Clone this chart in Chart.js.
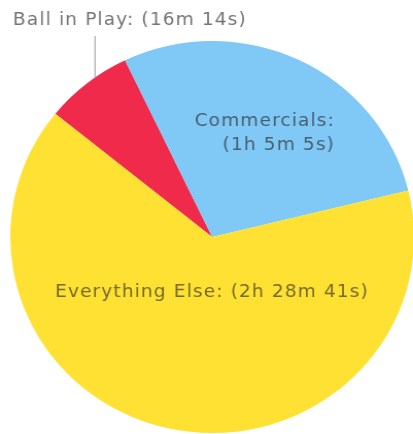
<!DOCTYPE html>
<html>
<head>
<meta charset="utf-8">
<script src="https://cdn.jsdelivr.net/npm/chart.js@4"></script>
<style>
  html, body { margin: 0; padding: 0; background: #fff; overflow: hidden; width: 413px; height: 434px; }
  #wrap { position: absolute; left: 0; top: 0; }
  /* the reference pie is a little wider than it is tall */
  #myChart { transform: scaleX(1.03); transform-origin: 0 0; }
</style>
</head>
<body>
<div id="wrap"><canvas id="myChart" width="412" height="474"></canvas></div>
<script>
// slices, in seconds
var labels = ["Ball in Play", "Commercials", "Everything Else"];
var durations = ["(16m 14s)", "(1h 5m 5s)", "(2h 28m 41s)"];
var seconds = [974, 3905, 8921];
var colors = ["#ef2a4b", "#80c8f5", "#ffe133"];

var sx = 1.03;
var textColor = "rgba(40,40,40,0.65)";
var font = "18px 'DejaVu Sans', Verdana, sans-serif";

// labels drawn on top of the pie
var pieLabels = {
  id: "pieLabels",
  afterDraw: function(chart) {
    var ctx = chart.ctx;
    var arcs = chart.getDatasetMeta(0).data;
    ctx.save();
    ctx.font = font;
    ctx.letterSpacing = "1.1px";
    ctx.fillStyle = textColor;
    ctx.textBaseline = "alphabetic";

    // ball in play: outside, with a leader line down to its arc
    var a = arcs[0];
    var lx = 95 / sx;
    var ly = a.y - Math.sqrt(a.outerRadius * a.outerRadius - (lx - a.x) * (lx - a.x));
    ctx.strokeStyle = "#999";
    ctx.lineWidth = 1;
    ctx.beginPath();
    ctx.moveTo(lx, ly + 1);
    ctx.lineTo(lx, 36);
    ctx.stroke();
    ctx.textAlign = "left";
    ctx.fillText(labels[0] + ": " + durations[0], 13 / sx, 25);

    // commercials: two lines, right aligned
    ctx.textAlign = "right";
    ctx.fillText(labels[1] + ":", 335 / sx, 126);
    ctx.fillText(durations[1], 335 / sx, 150);

    // everything else
    ctx.textAlign = "center";
    ctx.fillText(labels[2] + ": " + durations[2], 212 / sx, 297);
    ctx.restore();
  }
};

var ctx = document.getElementById('myChart').getContext('2d');
var chart = new Chart(ctx, {
  type: 'pie',
  data: {
    labels: labels,
    datasets: [{
      data: seconds,
      backgroundColor: colors,
      borderWidth: 0,
      hoverOffset: 0,
      offset: 0
    }]
  },
  options: {
    responsive: false,
    animation: false,
    events: [],
    rotation: -51,
    layout: { padding: { left: 10, right: 10, top: 41, bottom: 41 } },
    plugins: {
      legend: { display: false },
      tooltip: { enabled: false }
    }
  },
  plugins: [pieLabels]
});
</script>
</body>
</html>
